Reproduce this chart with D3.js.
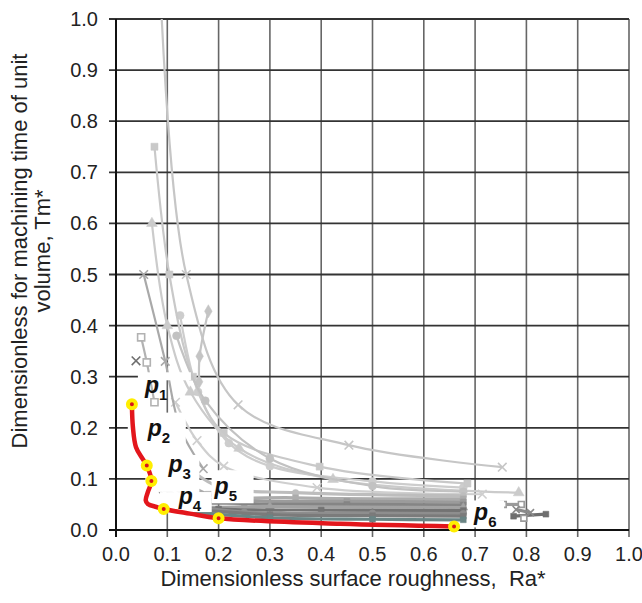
<!DOCTYPE html>
<html>
<head>
<meta charset="utf-8">
<script src="https://cdn.jsdelivr.net/npm/d3@7"></script>
<style>
  body { margin: 0; background: #fff; }
  text { font-family: "Liberation Sans", Arial, sans-serif; }
</style>
</head>
<body>
<div id="chart"></div>
<script>
// tick values for both axes
let xTicks = [0, 0.1, 0.2, 0.3, 0.4, 0.5, 0.6, 0.7, 0.8, 0.9, 1.0];
let yTicks = [0, 0.1, 0.2, 0.3, 0.4, 0.5, 0.6, 0.7, 0.8, 0.9, 1.0];

// light grey curves [Ra*, Tm*]
let serA = [[0.085, 1.1], [0.137, 0.5], [0.238, 0.245], [0.454, 0.166], [0.753, 0.123]];
let serB = [[0.075, 0.75], [0.104, 0.5], [0.15, 0.3], [0.21, 0.19], [0.397, 0.124], [0.685, 0.091]];
let serC = [[0.07, 0.6], [0.1, 0.4], [0.145, 0.27], [0.24, 0.16], [0.423, 0.099], [0.785, 0.073]];
let serD = [[0.18, 0.428], [0.163, 0.34], [0.162, 0.29]];
let serE = [[0.118, 0.38], [0.174, 0.253], [0.3, 0.14], [0.5, 0.086], [0.677, 0.075]];
let serF = [[0.116, 0.25], [0.158, 0.175], [0.21, 0.125], [0.392, 0.083], [0.714, 0.07]];
let serG = [[0.054, 0.5], [0.096, 0.33], [0.125, 0.2], [0.17, 0.12]];
let serH = [[0.049, 0.377], [0.06, 0.328], [0.075, 0.25]];
let serI = [[0.039, 0.331]];
let serJ = [[0.125, 0.42], [0.16, 0.27], [0.22, 0.17], [0.3, 0.125], [0.5, 0.095], [0.677, 0.083]];

// darker band near the bottom
let dk1 = [[0.13, 0.13], [0.2, 0.085], [0.35, 0.073], [0.677, 0.067]];
let dk2 = [[0.11, 0.11], [0.18, 0.07], [0.35, 0.063], [0.677, 0.061]];
let dk3 = [[0.09, 0.12], [0.13, 0.07], [0.25, 0.058], [0.45, 0.056], [0.677, 0.055]];
let dk4 = [[0.085, 0.1], [0.12, 0.062], [0.25, 0.052], [0.45, 0.05], [0.677, 0.049]];
let dk5 = [[0.1, 0.08], [0.15, 0.05], [0.3, 0.046], [0.677, 0.044]];
let dk6 = [[0.08, 0.085], [0.11, 0.05], [0.2, 0.041], [0.4, 0.039], [0.677, 0.038]];
let dk7 = [[0.12, 0.05], [0.25, 0.035], [0.5, 0.033], [0.677, 0.032]];
let dk8 = [[0.13, 0.042], [0.3, 0.03], [0.5, 0.028], [0.677, 0.027]];
let dk9 = [[0.15, 0.035], [0.3, 0.024], [0.5, 0.021], [0.677, 0.02]];

// small group at the right end
let rt1 = [[0.775, 0.027], [0.838, 0.031]];
let rt2 = [[0.755, 0.05], [0.79, 0.05]];
let rt3 = [[0.795, 0.023]];
let rt4 = [[0.78, 0.04], [0.808, 0.034]];

// pareto front (red) and the marked points
let frontCurve = [[0.031, 0.246], [0.033, 0.201], [0.039, 0.162], [0.052, 0.139], [0.06, 0.126],
    [0.069, 0.096], [0.062, 0.074], [0.058, 0.058], [0.062, 0.051], [0.079, 0.045], [0.093, 0.041],
    [0.144, 0.032], [0.2, 0.023], [0.437, 0.012], [0.659, 0.007]];
let pNames = ['1', '2', '3', '4', '5', '6'];
let pPoints = [[0.031, 0.246], [0.06, 0.126], [0.069, 0.096], [0.093, 0.041], [0.2, 0.023], [0.659, 0.007]];

// styles, kept apart from the values
let lightStyles = [
    { d: serJ, c: '#cdcdcd', m: 'cir' },
    { d: serA, c: '#c6c6c6', m: 'x' },
    { d: serB, c: '#c9c9c9', m: 'sq' },
    { d: serC, c: '#cbcbcb', m: 'tri' },
    { d: serD, c: '#c4c4c4', m: 'dia' },
    { d: serE, c: '#c2c2c2', m: 'cir' },
    { d: serF, c: '#cfcfcf', m: 'x' },
    { d: serG, c: '#a9a9a9', m: 'x' },
    { d: serH, c: '#b2b2b2', m: 'osq' },
    { d: serI, c: '#6f6f6f', m: 'x' }
];
let darkStyles = [
    { d: dk1, c: '#bdbdbd', m: 'cir' },
    { d: dk2, c: '#acacac', m: 'sq' },
    { d: dk3, c: '#9b9b9b', m: 'sq' },
    { d: dk4, c: '#858585', m: 'sq' },
    { d: dk5, c: '#a2a2a2', m: 'tri' },
    { d: dk6, c: '#737373', m: 'sq' },
    { d: dk7, c: '#8e8e8e', m: 'cir' },
    { d: dk8, c: '#7b7b7b', m: 'sq' },
    { d: dk9, c: '#6a8585', m: 'sq' },
    { d: rt1, c: '#6e6e6e', m: 'sq' },
    { d: rt2, c: '#9a9a9a', m: 'osq' },
    { d: rt3, c: '#9a9a9a', m: 'osq' },
    { d: rt4, c: '#8a8a8a', m: 'x' }
];
let labelOffsets = [[13, -11], [1, -30], [17, -9], [15, -5], [-4, -24], [20, -6]];
let labelBoxes = [[6, -32, 53, 8], [-19, -53, 58, 43], [-6, -26, 54, 37], [-4, -17, 52, 20], [-7, -48, 42, 33], [14, -26, 36, 27]];

let svgWidth = 642;
let svgHeight = 603;
let margin = { top: 19, right: 13, bottom: 73, left: 116 };
let width = svgWidth - margin.left - margin.right;
let height = svgHeight - margin.top - margin.bottom;

let svg = d3.select('#chart')
    .append('svg')
    .attr('width', svgWidth)
    .attr('height', svgHeight);

let chartgroup = svg.append('g')
    .attr('transform', `translate(${margin.left},${margin.top})`);

let x = d3.scaleLinear().domain([0, 1]).range([0, width]);
let y = d3.scaleLinear().domain([0, 1]).range([height, 0]);

// grid, with the tick stubs sticking out of the axes
chartgroup.append('g').selectAll('line')
    .data(xTicks)
    .enter()
    .append('line')
    .attr('x1', d => x(d)).attr('x2', d => x(d))
    .attr('y1', 0).attr('y2', height + 7)
    .attr('stroke', '#666')
    .attr('stroke-width', 1.6);

chartgroup.append('g').selectAll('line')
    .data(yTicks)
    .enter()
    .append('line')
    .attr('x1', -7).attr('x2', width)
    .attr('y1', d => y(d)).attr('y2', d => y(d))
    .attr('stroke', '#333')
    .attr('stroke-width', 1.8);

chartgroup.append('line')
    .attr('x1', 0).attr('x2', 0).attr('y1', 0).attr('y2', height + 7)
    .attr('stroke', '#111').attr('stroke-width', 2);
chartgroup.append('line')
    .attr('x1', -7).attr('x2', width).attr('y1', height).attr('y2', height)
    .attr('stroke', '#111').attr('stroke-width', 2);

// tick labels
chartgroup.append('g').selectAll('text')
    .data(yTicks)
    .enter()
    .append('text')
    .attr('x', -18)
    .attr('y', d => y(d))
    .attr('dy', '0.35em')
    .attr('text-anchor', 'end')
    .attr('font-size', '20px')
    .attr('fill', '#222')
    .text(d => d.toFixed(1));

chartgroup.append('g').selectAll('text')
    .data(xTicks)
    .enter()
    .append('text')
    .attr('x', d => x(d))
    .attr('y', height + 31)
    .attr('text-anchor', 'middle')
    .attr('font-size', '20px')
    .attr('fill', '#222')
    .text(d => d.toFixed(1));

// axis titles
svg.append('text')
    .attr('x', 353)
    .attr('y', 586)
    .attr('text-anchor', 'middle')
    .attr('font-size', '22px')
    .attr('fill', '#222')
    .attr('xml:space', 'preserve')
    .text('Dimensionless surface roughness,  Ra*');

let ytitle = svg.append('text')
    .attr('transform', 'translate(0,251) rotate(-90)')
    .attr('text-anchor', 'middle')
    .attr('font-size', '22px')
    .attr('fill', '#222');
ytitle.append('tspan').attr('x', 0).attr('y', 27).text('Dimensionless for machining time of unit');
ytitle.append('tspan').attr('x', 0).attr('y', 50).text('volume, Tm*');

// series
svg.append('clipPath').attr('id', 'plotclip')
    .append('rect').attr('x', 0).attr('y', 0).attr('width', width + 2).attr('height', height);

let plot = chartgroup.append('g').attr('clip-path', 'url(#plotclip)');

let line = d3.line()
    .x(d => x(d[0]))
    .y(d => y(d[1]))
    .curve(d3.curveCatmullRom.alpha(0.5));

function drawMarkers(g, s, size) {
    let shapes = { x: d3.symbolTimes, sq: d3.symbolSquare, osq: d3.symbolSquare, tri: d3.symbolTriangle, dia: d3.symbolDiamond, cir: d3.symbolCircle };
    let sym = d3.symbol().type(shapes[s.m]).size(size);
    let open = s.m === 'x' || s.m === 'osq';
    g.selectAll(null)
        .data(s.d)
        .enter()
        .append('path')
        .attr('d', sym)
        .attr('transform', d => `translate(${x(d[0])},${y(d[1])})`)
        .attr('fill', open ? (s.m === 'osq' ? '#fff' : 'none') : s.c)
        .attr('stroke', s.c)
        .attr('stroke-width', open ? 1.6 : 0.5);
}

function drawSeries(list, w, size) {
    list.forEach(function (s) {
        let g = plot.append('g');
        if (s.d.length > 1) {
            g.append('path')
                .attr('d', line(s.d))
                .attr('fill', 'none')
                .attr('stroke', s.c)
                .attr('stroke-width', w);
        }
        drawMarkers(g, s, size);
    });
}

drawSeries(lightStyles, 2.2, 50);
drawSeries(darkStyles, 3.2, 34);

// white label backgrounds
pPoints.forEach(function (p, i) {
    let b = labelBoxes[i];
    plot.append('rect')
        .attr('x', x(p[0]) + b[0])
        .attr('y', y(p[1]) + b[1])
        .attr('width', b[2])
        .attr('height', b[3])
        .attr('fill', '#fff');
});

// pareto front
plot.append('path')
    .attr('d', line(frontCurve))
    .attr('fill', 'none')
    .attr('stroke', '#e3161c')
    .attr('stroke-width', 4.5)
    .attr('stroke-linecap', 'round');

chartgroup.selectAll('.ppt')
    .data(pPoints)
    .enter()
    .append('circle')
    .attr('class', 'ppt')
    .attr('cx', d => x(d[0]))
    .attr('cy', d => y(d[1]))
    .attr('r', 4)
    .attr('fill', '#d8141c')
    .attr('stroke', '#ffee00')
    .attr('stroke-width', 4);

// p labels
pPoints.forEach(function (p, i) {
    let o = labelOffsets[i];
    let t = chartgroup.append('text')
        .attr('x', x(p[0]) + o[0])
        .attr('y', y(p[1]) + o[1])
        .attr('font-size', '23px')
        .attr('font-weight', 'bold')
        .attr('font-style', 'italic')
        .attr('fill', '#111');
    t.append('tspan').text('p');
    t.append('tspan')
        .attr('dy', 7)
        .attr('font-size', '15px')
        .attr('font-style', 'normal')
        .text(pNames[i]);
});
</script>
</body>
</html>
